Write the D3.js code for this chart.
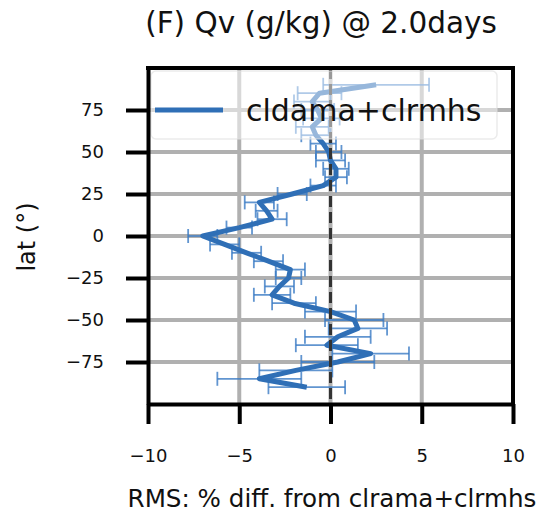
<!DOCTYPE html>
<html>
<head>
<meta charset="utf-8">
<script src="https://cdn.jsdelivr.net/npm/d3@7"></script>
<style>
  body { margin: 0; background: white; }
  text { font-family: "DejaVu Sans", sans-serif; }
</style>
</head>
<body>
<div id="vis"></div>
<script>
var width = 541
var height = 518

// latitude of each point (deg) and its RMS % diff with error half-width
var lats = [90, 85, 80, 75, 70, 65, 60, 55, 50, 45, 40, 35, 30, 25, 20, 15, 10, 5, 0,
  -5, -10, -15, -20, -25, -30, -35, -40, -45, -50, -55, -60, -65, -70, -75, -80, -85, -90]
var diffs = [2.5, -0.6, -1.0, -0.7, -0.5, -1.0, -0.8, -0.4, -0.1, 0.0, 0.3, 0.3, -0.4, -2.1, -3.9, -3.5, -3.2, -5.0, -7.0,
  -5.8, -4.6, -3.4, -2.2, -2.3, -2.8, -3.2, -2.0, 0.0, 1.3, 1.5, 0.4, -0.2, 2.2, 0.4, -1.9, -3.9, -1.3]
var errs = [2.9, 1.2, 1.0, 0.9, 1.0, 0.9, 0.8, 0.7, 0.7, 0.8, 0.7, 0.6, 0.7, 0.8, 0.8, 0.6, 0.8, 0.7, 0.8,
  0.8, 0.8, 0.8, 0.8, 0.7, 0.8, 1.0, 1.2, 1.4, 1.6, 1.6, 1.8, 1.7, 2.1, 2.0, 2.0, 2.3, 2.1]

var xTicks = [-10, -5, 0, 5, 10]
var yTicks = [-75, -50, -25, 0, 25, 50, 75]
var seriesName = "cldama+clrmhs"
var titleText = "(F) Qv (g/kg) @ 2.0days"
var xLabel = "RMS: % diff. from clrama+clrmhs"
var yLabel = "lat (°)"

var blue = "#2f6fb6"

var data = lats.map(function(d, i) { return {lat: d, v: diffs[i], e: errs[i]} })

var svg = d3.select("#vis")
  .append("svg")
  .attr("width", width)
  .attr("height", height)
  .style("display", "block")

var x = d3.scaleLinear().domain([-10, 10]).range([148, 513])
var y = d3.scaleLinear().domain([-100, 100]).range([404, 68])

// grid
svg.append("g")
  .selectAll("line.gx")
  .data(xTicks.filter(function(t) { return t > -10 && t < 10 }))
  .enter().append("line")
    .attr("x1", d => x(d)).attr("x2", d => x(d))
    .attr("y1", y(100)).attr("y2", y(-100))
    .attr("stroke", "#b0b0b0")
    .attr("stroke-width", 4)

svg.append("g")
  .selectAll("line.gy")
  .data(yTicks)
  .enter().append("line")
    .attr("x1", x(-10)).attr("x2", x(10))
    .attr("y1", d => y(d)).attr("y2", d => y(d))
    .attr("stroke", "#b0b0b0")
    .attr("stroke-width", 4)

// error bars
var eb = svg.append("g")
  .attr("stroke", "#3a7bc4")
  .attr("stroke-opacity", 0.8)
  .attr("stroke-width", 1.8)

eb.selectAll("line.bar")
  .data(data)
  .enter().append("line")
    .attr("x1", d => x(d.v - d.e)).attr("x2", d => x(d.v + d.e))
    .attr("y1", d => y(d.lat)).attr("y2", d => y(d.lat))

var caps = []
data.forEach(function(d) {
  caps.push({lat: d.lat, v: d.v - d.e})
  caps.push({lat: d.lat, v: d.v + d.e})
})
eb.selectAll("line.cap")
  .data(caps)
  .enter().append("line")
    .attr("x1", d => x(d.v)).attr("x2", d => x(d.v))
    .attr("y1", d => y(d.lat) - 7).attr("y2", d => y(d.lat) + 7)

// profile line
var line = d3.line()
  .x(d => x(d.v))
  .y(d => y(d.lat))

svg.append("path")
  .datum(data)
  .attr("d", line)
  .attr("fill", "none")
  .attr("stroke", blue)
  .attr("stroke-width", 5)
  .attr("stroke-linejoin", "round")

// zero line
svg.append("line")
  .attr("x1", x(0)).attr("x2", x(0))
  .attr("y1", y(100)).attr("y2", y(-100))
  .attr("stroke", "#333333")
  .attr("stroke-width", 3)
  .attr("stroke-dasharray", "11,5")

// legend
var leg = svg.append("g")
leg.append("rect")
  .attr("x", 151).attr("y", 71)
  .attr("width", 346).attr("height", 68)
  .attr("rx", 5)
  .attr("fill", "white")
  .attr("fill-opacity", 0.5)
  .attr("stroke", "#dddddd")
  .attr("stroke-opacity", 0.6)
  .attr("stroke-width", 1.5)
leg.append("line")
  .attr("x1", 155).attr("x2", 223)
  .attr("y1", 110).attr("y2", 110)
  .attr("stroke", blue)
  .attr("stroke-width", 5)
leg.append("text")
  .attr("x", 246).attr("y", 121)
  .attr("font-size", 30)
  .attr("fill", "#111")
  .text(seriesName)

// axes
var xAxis = svg.append("g")
  .attr("transform", "translate(0," + y(-100) + ")")
  .call(d3.axisBottom(x).tickValues(xTicks).tickSize(20).tickPadding(25).tickSizeOuter(0))
var yAxis = svg.append("g")
  .attr("transform", "translate(" + x(-10) + ",0)")
  .call(d3.axisLeft(y).tickValues(yTicks).tickSize(22).tickPadding(22).tickSizeOuter(0))

;[xAxis, yAxis].forEach(function(a) {
  a.select(".domain").attr("stroke", "black").attr("stroke-width", 4)
  a.selectAll(".tick line").attr("stroke", "black").attr("stroke-width", 4)
  a.selectAll(".tick text")
    .attr("font-size", 18)
    .attr("fill", "#111")
    .style("font-family", "'DejaVu Sans', sans-serif")
})

// top and right spines
svg.append("line")
  .attr("x1", x(-10) - 2).attr("x2", x(10) + 2)
  .attr("y1", y(100)).attr("y2", y(100))
  .attr("stroke", "black").attr("stroke-width", 4)
svg.append("line")
  .attr("x1", x(10)).attr("x2", x(10))
  .attr("y1", y(100)).attr("y2", y(-100))
  .attr("stroke", "black").attr("stroke-width", 4)

// labels
svg.append("text")
  .attr("x", 321).attr("y", 33)
  .attr("text-anchor", "middle")
  .attr("font-size", 29.5)
  .attr("fill", "#111")
  .text(titleText)

svg.append("text")
  .attr("x", 332).attr("y", 507)
  .attr("text-anchor", "middle")
  .attr("font-size", 24.6)
  .attr("fill", "#111")
  .text(xLabel)

svg.append("text")
  .attr("transform", "translate(35,237) rotate(-90)")
  .attr("text-anchor", "middle")
  .attr("font-size", 24)
  .attr("fill", "#111")
  .text(yLabel)
</script>
</body>
</html>
